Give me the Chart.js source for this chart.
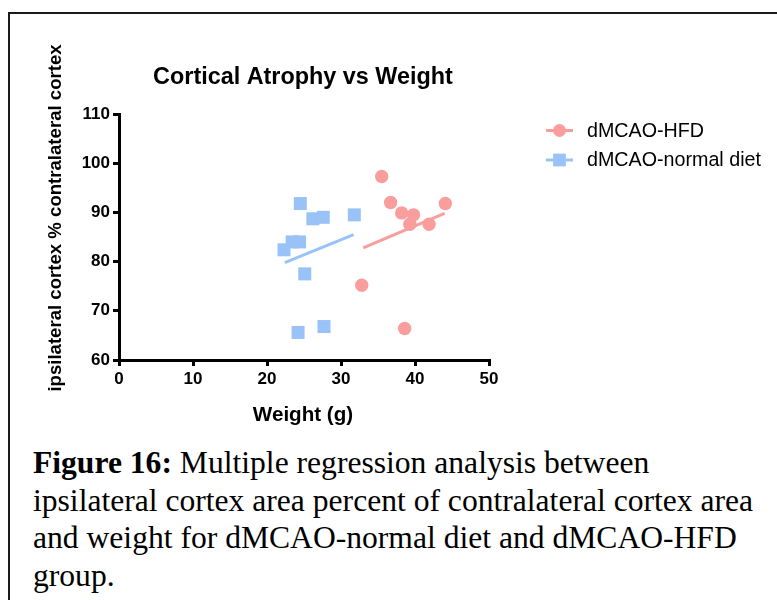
<!DOCTYPE html>
<html>
<head>
<meta charset="utf-8">
<script src="https://cdn.jsdelivr.net/npm/chart.js@4.4.1/dist/chart.umd.min.js"></script>
<style>
  html, body { margin: 0; padding: 0; background: #fff; overflow: hidden; }
  body { width: 777px; height: 600px; position: relative; }
  #frame { position: absolute; left: 8px; top: 12px; width: 820px; height: 700px; border: 2px solid #1a1a1a; box-sizing: border-box; }
  #chart { position: absolute; left: 0; top: 0; }
  #caption { position: absolute; left: 33px; top: 444px; font-family: "Liberation Serif", "Times New Roman", serif; font-size: 31.6px; line-height: 37.7px; color: #000; white-space: nowrap; }
</style>
</head>
<body>
<div id="frame"></div>
<canvas id="chart" width="777" height="430"></canvas>
<div id="caption"><b>Figure 16:</b> Multiple regression analysis between<br>ipsilateral cortex area percent of contralateral cortex area<br>and weight for dMCAO-normal diet and dMCAO-HFD<br>group.</div>
<script>
// values
const hfdWeight = [35.5, 36.7, 38.2, 39.8, 39.3, 41.9, 44.1, 32.8, 38.6];
const hfdCortex = [97.3, 92.0, 89.9, 89.5, 87.6, 87.6, 91.8, 75.2, 66.4];
const ndWeight = [22.3, 23.4, 24.4, 24.5, 26.2, 27.6, 31.8, 25.1, 24.2, 27.7];
const ndCortex = [82.4, 84.0, 84.0, 91.8, 88.7, 89.0, 89.5, 77.5, 65.6, 66.8];

// fitted regression lines (end points)
const hfdFitX = [33.0, 44.0];
const hfdFitY = [82.8, 89.8];
const ndFitX = [22.4, 31.7];
const ndFitY = [79.8, 85.5];

const xTicks = [0, 10, 20, 30, 40, 50];
const yTicks = [60, 70, 80, 90, 100, 110];

const seriesNames = ["dMCAO-HFD", "dMCAO-normal diet"];
const pink = "#fa9d9d";
const blue = "#99c3f7";

const toPoints = (xs, ys) => xs.map((x, i) => ({ x: x, y: ys[i] }));

const sans = "'Liberation Sans', Arial, sans-serif";

const extras = {
  id: "extras",
  afterDraw(chart) {
    const ctx = chart.ctx;
    ctx.save();
    ctx.fillStyle = "#000";

    // chart title
    ctx.font = "bold 23.4px " + sans;
    ctx.textAlign = "center";
    ctx.textBaseline = "alphabetic";
    ctx.fillText("Cortical Atrophy vs Weight", 303, 84);

    // y axis title
    ctx.save();
    ctx.translate(61, 218);
    ctx.rotate(-Math.PI / 2);
    ctx.font = "bold 18.6px " + sans;
    ctx.fillText("ipsilateral cortex % contralateral cortex", 0, 0);
    ctx.restore();

    // x axis title
    ctx.font = "bold 20.6px " + sans;
    ctx.fillText("Weight (g)", 303, 421);

    // legend: line + marker
    const rows = [
      { name: seriesNames[0], color: pink, style: "circle", r: 6.5, y: 130.5 },
      { name: seriesNames[1], color: blue, style: "rect", r: 9, y: 160 }
    ];
    rows.forEach(row => {
      ctx.strokeStyle = row.color;
      ctx.lineWidth = 3;
      ctx.beginPath();
      ctx.moveTo(546, row.y);
      ctx.lineTo(573, row.y);
      ctx.stroke();
      ctx.fillStyle = row.color;
      Chart.helpers.drawPoint(ctx, { pointStyle: row.style, radius: row.r, borderWidth: 0 }, 559.5, row.y);
      ctx.fillStyle = "#000";
      ctx.font = "19.7px " + sans;
      ctx.textAlign = "left";
      ctx.textBaseline = "middle";
      ctx.fillText(row.name, 587, row.y + 1);
    });
    ctx.restore();
  }
};

const axisCommon = {
  grid: { drawOnChartArea: false, drawTicks: true, tickLength: 6, color: "#000", lineWidth: 3 },
  border: { display: true, color: "#000", width: 3 },
  ticks: { color: "#000", font: { family: sans, size: 17, weight: "bold" }, padding: 3 }
};

new Chart(document.getElementById("chart"), {
  type: "scatter",
  data: {
    datasets: [
      { label: seriesNames[0], data: toPoints(hfdWeight, hfdCortex), pointStyle: "circle", pointRadius: 6.7, backgroundColor: pink, borderWidth: 0, order: 1 },
      { label: seriesNames[1], data: toPoints(ndWeight, ndCortex), pointStyle: "rect", pointRadius: 9.2, backgroundColor: blue, borderWidth: 0, order: 1 },
      { label: "HFD fit", data: toPoints(hfdFitX, hfdFitY), showLine: true, pointRadius: 0, borderColor: pink, borderWidth: 3, order: 2 },
      { label: "ND fit", data: toPoints(ndFitX, ndFitY), showLine: true, pointRadius: 0, borderColor: blue, borderWidth: 3, order: 2 }
    ]
  },
  options: {
    responsive: false,
    animation: false,
    devicePixelRatio: 1,
    layout: { padding: { left: 0, top: 114, right: 288, bottom: 0 } },
    plugins: { legend: { display: false }, tooltip: { enabled: false }, title: { display: false } },
    scales: {
      x: Object.assign({}, axisCommon, {
        type: "linear", min: xTicks[0], max: xTicks[xTicks.length - 1],
        ticks: Object.assign({}, axisCommon.ticks, { stepSize: 10 }),
        afterBuildTicks: s => { s.ticks = xTicks.map(v => ({ value: v })); },
        afterFit: s => { s.height = 70; }
      }),
      y: Object.assign({}, axisCommon, {
        type: "linear", min: yTicks[0], max: yTicks[yTicks.length - 1],
        ticks: Object.assign({}, axisCommon.ticks, { stepSize: 10 }),
        afterBuildTicks: s => { s.ticks = yTicks.map(v => ({ value: v })); },
        afterFit: s => { s.width = 119; }
      })
    }
  },
  plugins: [extras]
});
</script>
</body>
</html>
